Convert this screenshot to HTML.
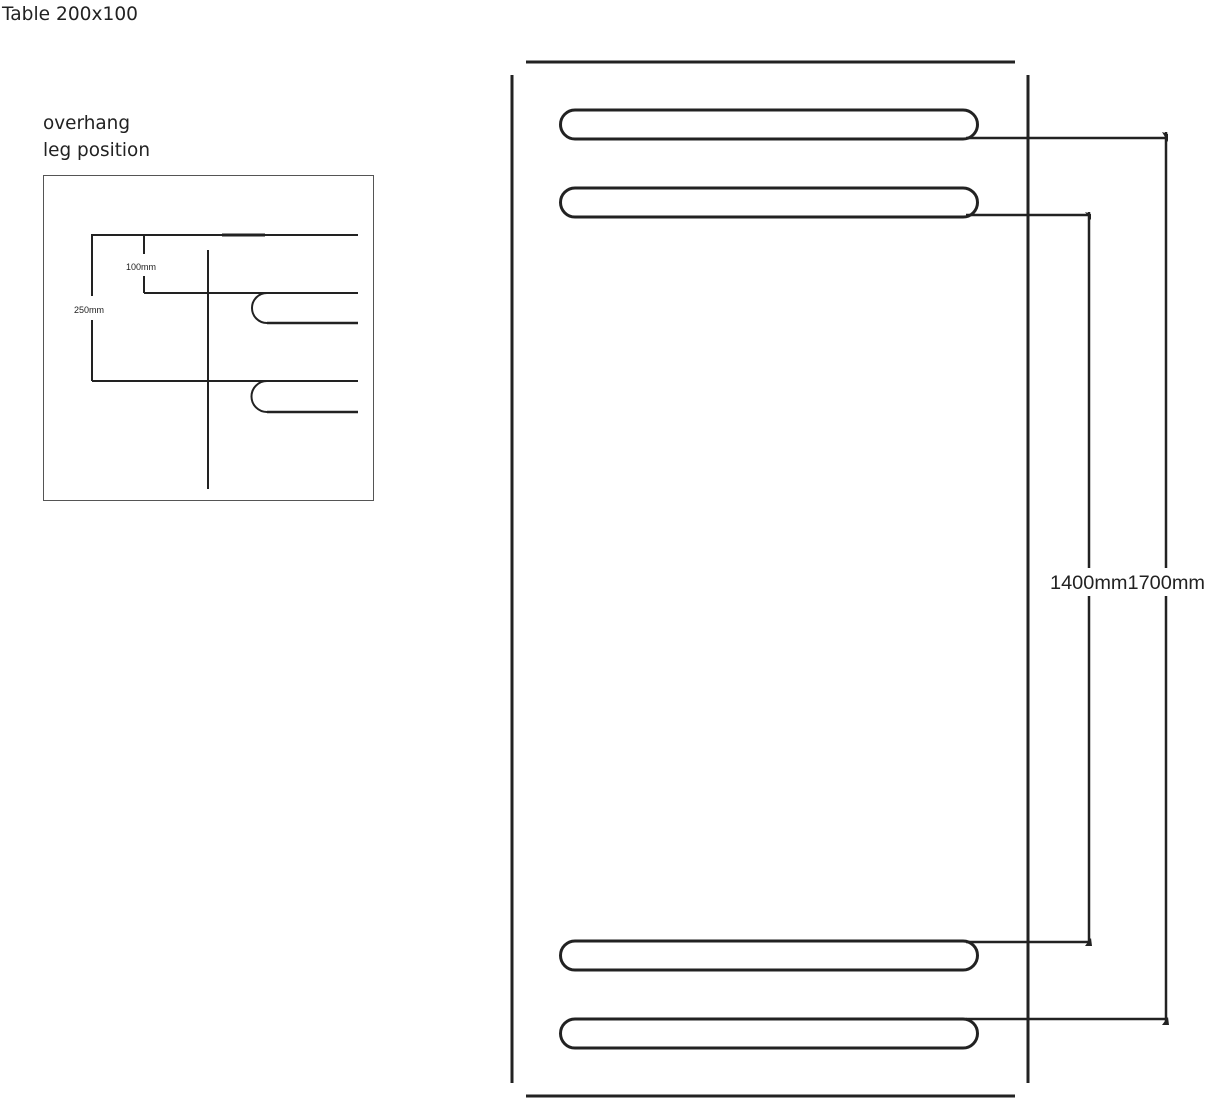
<!DOCTYPE html>
<html><head><meta charset="utf-8"><style>
html,body{margin:0;padding:0;background:#fff;}
svg{display:block}
text{font-family:"DejaVu Sans","Liberation Sans",sans-serif;fill:#222}
</style></head><body>
<svg width="1208" height="1100" viewBox="0 0 1208 1100" xmlns="http://www.w3.org/2000/svg">
<text x="2" y="20" font-size="19" textLength="136" lengthAdjust="spacingAndGlyphs">Table 200x100</text>
<text x="43" y="129" font-size="19" textLength="87" lengthAdjust="spacingAndGlyphs">overhang</text>
<text x="43" y="156" font-size="19" textLength="107" lengthAdjust="spacingAndGlyphs">leg position</text>
<rect x="43.5" y="175.5" width="330" height="325" fill="none" stroke="#555" stroke-width="1"/>
<g stroke="#222" stroke-width="2" fill="none">
<line x1="91" y1="235" x2="358" y2="235"/>
<line x1="222" y1="235" x2="265" y2="235" stroke-width="3"/>
<line x1="208" y1="250" x2="208" y2="489"/>
<line x1="144" y1="293" x2="267" y2="293"/>
<line x1="267" y1="293" x2="358" y2="293"/>
<line x1="267" y1="323" x2="358" y2="323" stroke-width="2.5"/>
<path d="M267 293 A15 15 0 0 0 267 323"/>
<line x1="92" y1="381" x2="358" y2="381"/>
<line x1="267" y1="412" x2="358" y2="412" stroke-width="2.5"/>
<path d="M267 381 A15.5 15.5 0 0 0 267 412"/>
<line x1="92" y1="235" x2="92" y2="296"/>
<line x1="92" y1="320" x2="92" y2="381"/>
<line x1="144" y1="235" x2="144" y2="254"/>
<line x1="144" y1="276" x2="144" y2="293"/>
</g>
<text x="126" y="270" font-size="9" style="font-family:'Liberation Sans',sans-serif" fill="#333">100mm</text>
<text x="74" y="313" font-size="9" style="font-family:'Liberation Sans',sans-serif" fill="#333">250mm</text>

<g stroke="#222" stroke-width="3" fill="none">
<line x1="526" y1="62" x2="1015" y2="62"/>
<line x1="526" y1="1096" x2="1015" y2="1096"/>
<line x1="512" y1="75" x2="512" y2="1083"/>
<line x1="1028" y1="75" x2="1028" y2="1083"/>
<path d="M575 110 H963 A14.5 14.5 0 0 1 963 139 H575 A14.5 14.5 0 0 1 575 110Z"/>
<path d="M575 188 H963 A14.5 14.5 0 0 1 963 217 H575 A14.5 14.5 0 0 1 575 188Z"/>
<path d="M575 941 H963 A14.5 14.5 0 0 1 963 970 H575 A14.5 14.5 0 0 1 575 941Z"/>
<path d="M575 1019 H963 A14.5 14.5 0 0 1 963 1048 H575 A14.5 14.5 0 0 1 575 1019Z"/>
</g>
<g stroke="#222" stroke-width="2.5" fill="none">
<line x1="966" y1="138" x2="1166" y2="138"/>
<line x1="1166" y1="132" x2="1166" y2="1022"/>
<line x1="966" y1="1019" x2="1166" y2="1019"/>
<line x1="966" y1="215" x2="1089" y2="215"/>
<line x1="1089" y1="212" x2="1089" y2="944"/>
<line x1="966" y1="942" x2="1089" y2="942"/>
</g>
<g fill="#222">
<path d="M1162 132 L1168 134 L1168 142 Z"/>
<path d="M1162 1025 L1168 1017 L1169 1025 Z"/>
<path d="M1085 212 L1091 214 L1091 220 Z"/>
<path d="M1085 946 L1091 938 L1092 946 Z"/>
</g>
<rect x="1046" y="568" width="162" height="28" fill="#fff"/>
<text x="1050" y="589" font-size="19" fill="#333" style="font-family:'Liberation Sans',sans-serif" textLength="155" lengthAdjust="spacingAndGlyphs">1400mm1700mm</text>
</svg>
</body></html>
